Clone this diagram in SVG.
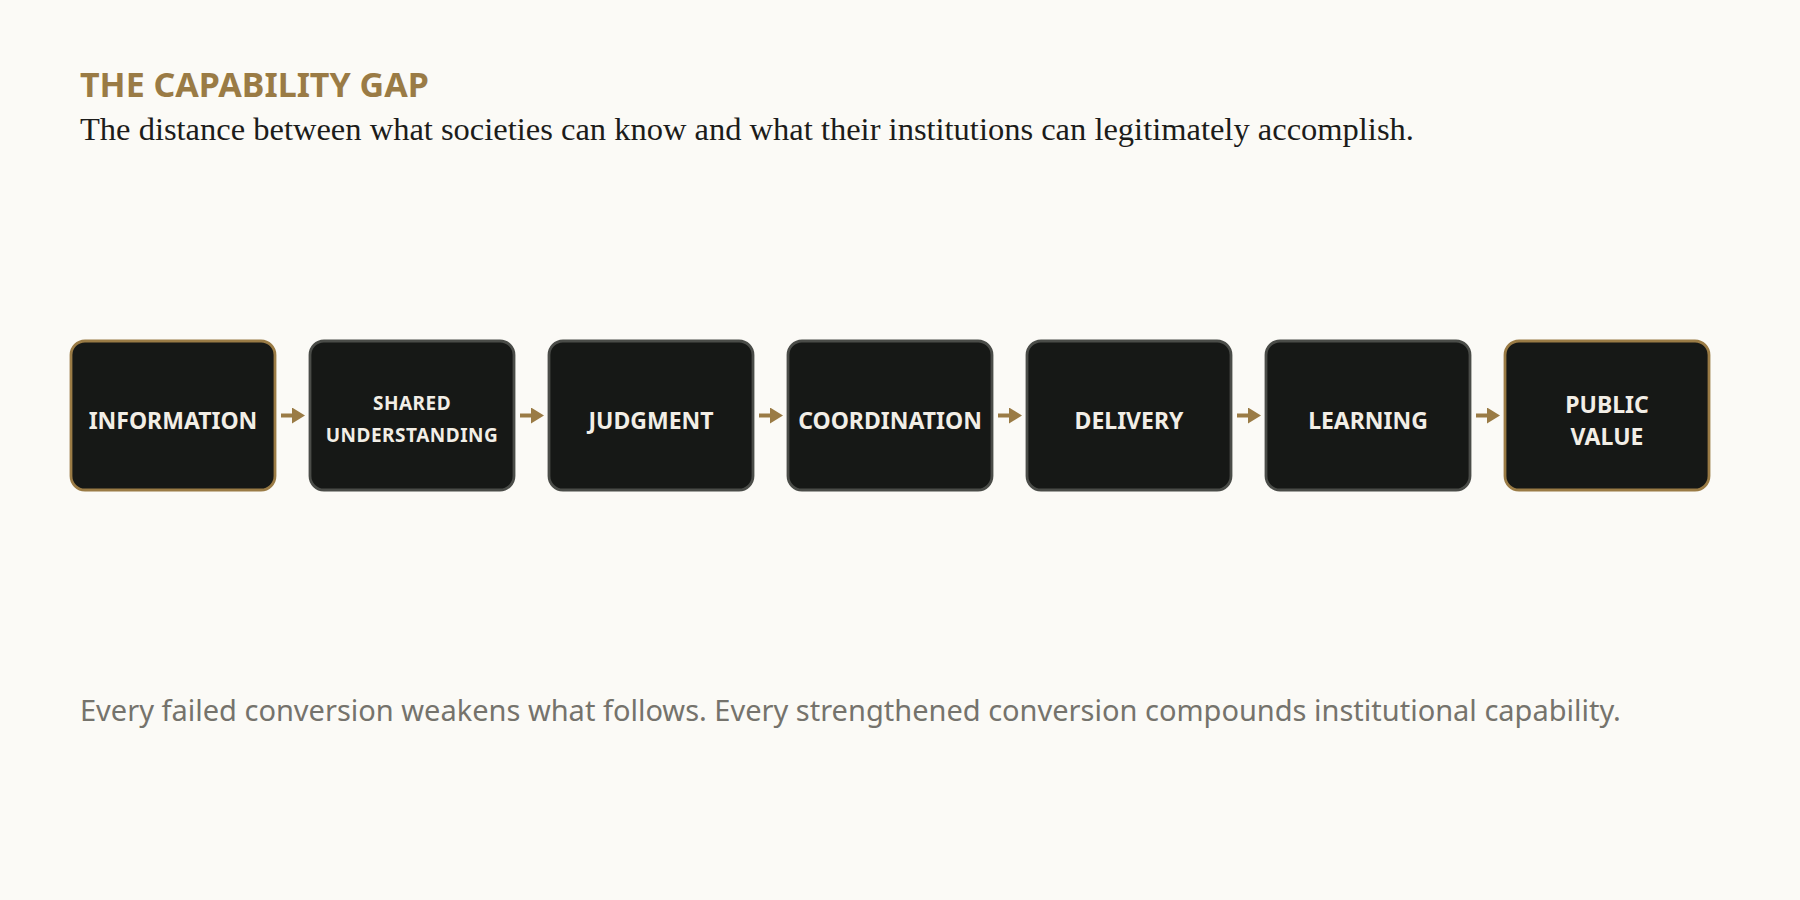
<svg xmlns="http://www.w3.org/2000/svg" width="1800" height="900" viewBox="0 0 1800 900">
<defs>
<style>
.title{font-family:"Noto Sans","Open Sans",sans-serif;font-weight:700;font-size:34px;fill:#9a7b45}
.sub{font-family:"Liberation Serif","DejaVu Serif",serif;font-size:32.5px;fill:#1c1c1a}
.foot{font-family:"Noto Sans","Open Sans",sans-serif;font-size:29px;fill:#75736c}
.box{fill:#161816;stroke:#4a4c48;stroke-width:2.8}
.box.hl{stroke:#9a7b45}
.lbl{font-family:"Noto Sans","Open Sans",sans-serif;font-weight:700;font-size:23px;fill:#f2eee6;text-anchor:middle}
.lbl.sm{font-size:19px;letter-spacing:0.5px}
.conn{stroke:#9a7b45;stroke-width:4;fill:none}
</style>
<marker id="ah" markerUnits="userSpaceOnUse" markerWidth="14" markerHeight="16" refX="0" refY="8" orient="auto">
<path d="M0,0 L13,8 L0,16 Z" fill="#9a7b45"/>
</marker>
</defs>
<rect width="1800" height="900" fill="#fbfaf6"/>
<text class="title" x="80" y="97">THE CAPABILITY GAP</text>
<text class="sub" x="80" y="140">The distance between what societies can know and what their institutions can legitimately accomplish.</text>

<g id="connectors">
<path class="conn" d="M281,415.5 H292" marker-end="url(#ah)"/>
<path class="conn" d="M520,415.5 H531" marker-end="url(#ah)"/>
<path class="conn" d="M759,415.5 H770" marker-end="url(#ah)"/>
<path class="conn" d="M998,415.5 H1009" marker-end="url(#ah)"/>
<path class="conn" d="M1237,415.5 H1248" marker-end="url(#ah)"/>
<path class="conn" d="M1476,415.5 H1487" marker-end="url(#ah)"/>
</g>

<g id="n-information">
<rect class="box hl" x="71" y="341" width="204" height="149" rx="14"/>
<text class="lbl" x="173" y="429">INFORMATION</text>
</g>
<g id="n-shared-understanding">
<rect class="box" x="310" y="341" width="204" height="149" rx="14"/>
<text class="lbl sm" x="412" y="410">SHARED</text>
<text class="lbl sm" x="412" y="442">UNDERSTANDING</text>
</g>
<g id="n-judgment">
<rect class="box" x="549" y="341" width="204" height="149" rx="14"/>
<text class="lbl" x="651" y="429">JUDGMENT</text>
</g>
<g id="n-coordination">
<rect class="box" x="788" y="341" width="204" height="149" rx="14"/>
<text class="lbl" x="890" y="429">COORDINATION</text>
</g>
<g id="n-delivery">
<rect class="box" x="1027" y="341" width="204" height="149" rx="14"/>
<text class="lbl" x="1129" y="429">DELIVERY</text>
</g>
<g id="n-learning">
<rect class="box" x="1266" y="341" width="204" height="149" rx="14"/>
<text class="lbl" x="1368" y="429">LEARNING</text>
</g>
<g id="n-public-value">
<rect class="box hl" x="1505" y="341" width="204" height="149" rx="14"/>
<text class="lbl" x="1607" y="413">PUBLIC</text>
<text class="lbl" x="1607" y="445">VALUE</text>
</g>

<text class="foot" x="80" y="721">Every failed conversion weakens what follows. Every strengthened conversion compounds institutional capability.</text>
</svg>
